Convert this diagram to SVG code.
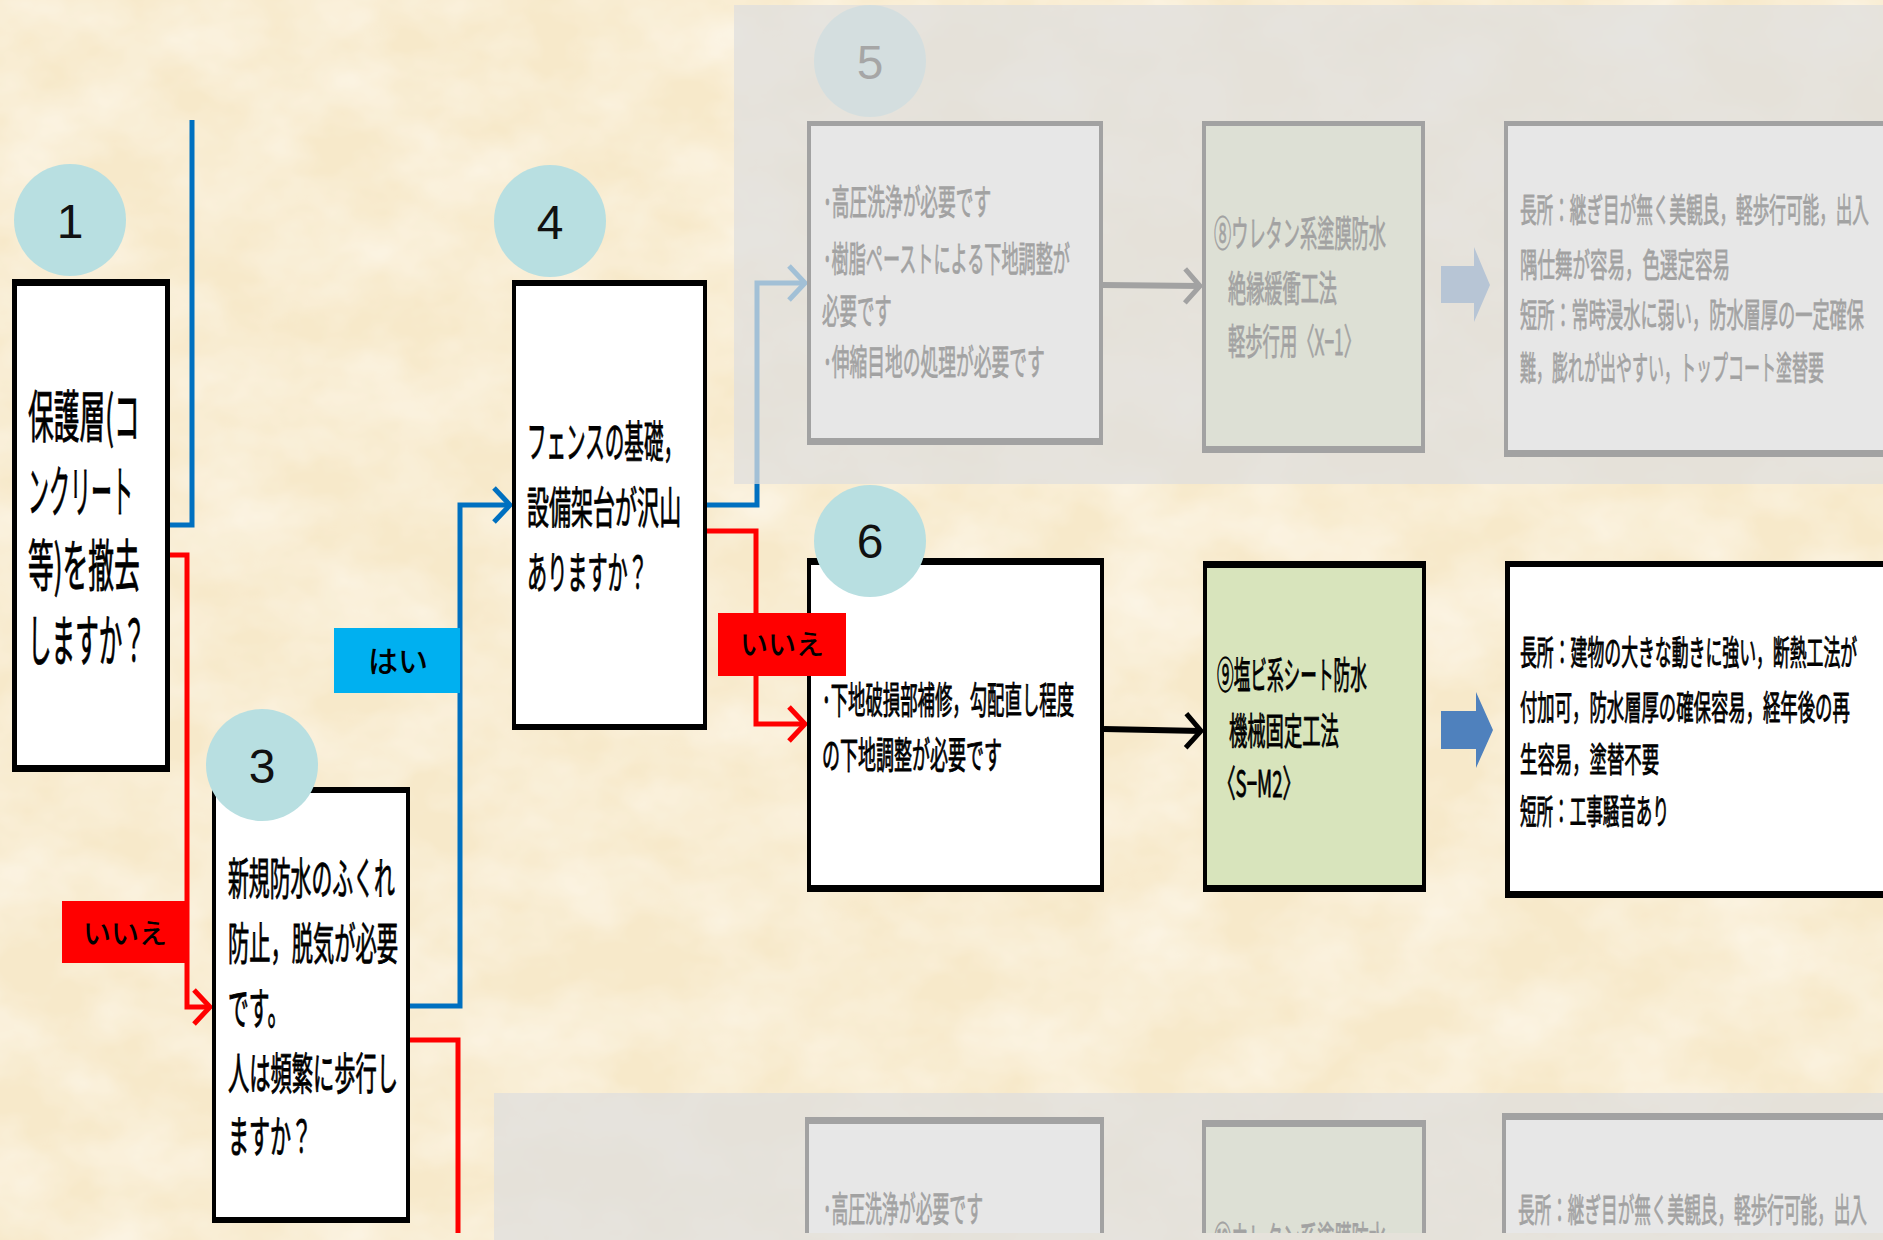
<svg xmlns="http://www.w3.org/2000/svg" width="1883" height="1240" viewBox="0 0 1883 1240">
<style>
.jp{font-family:"Noto Sans CJK JP","Noto Sans CJK SC",sans-serif;fill:#000;stroke:#000;stroke-width:0.9;font-weight:400}
.num{font-family:"Liberation Sans",Arial,sans-serif;font-size:48px;text-anchor:middle;fill:#111}
.lbl{font-family:"Noto Sans CJK JP","Noto Sans CJK SC",sans-serif;text-anchor:middle;fill:#000;font-weight:500}
.badge{fill:#b8dfe1}
.frame{fill:#000}
.inner{fill:#fff}
.green{fill:#d8e4bc}
.conn{fill:none;stroke-linejoin:miter}
.blue{stroke:#0070c0;stroke-width:5}
.red{stroke:#ff0000;stroke-width:5}
.blk{stroke:#000;stroke-width:6}
.fat{fill:#4f81bd}
.veil{fill:#dedede;opacity:0.73}
</style>
<defs>
<filter id="paper" x="0" y="0" width="100%" height="100%">
<feTurbulence type="fractalNoise" baseFrequency="0.01 0.014" numOctaves="4" seed="7"/>
<feColorMatrix type="matrix" values="0 0 0 0 1  0 0 0 0 0.98  0 0 0 0 0.94  1.0 0 0 0 -0.3"/>
</filter>
<clipPath id="cut"><rect x="0" y="0" width="1883" height="1233"/></clipPath>
<marker id="arB" markerUnits="userSpaceOnUse" markerWidth="40" markerHeight="40" refX="20" refY="20" orient="auto" overflow="visible"><path d="M4,3 L20,20 L4,37" fill="none" stroke="#0070c0" stroke-width="5"/></marker>
<marker id="arR" markerUnits="userSpaceOnUse" markerWidth="40" markerHeight="40" refX="20" refY="20" orient="auto" overflow="visible"><path d="M4,3 L20,20 L4,37" fill="none" stroke="#ff0000" stroke-width="5"/></marker>
<marker id="arK" markerUnits="userSpaceOnUse" markerWidth="40" markerHeight="40" refX="20" refY="20" orient="auto" overflow="visible"><path d="M5,3 L20,20 L5,37" fill="none" stroke="#000" stroke-width="5"/></marker>
</defs>

<rect width="1883" height="1240" fill="#f7e9ca"/>
<rect width="1883" height="1240" filter="url(#paper)"/>

<g id="bottom-row" clip-path="url(#cut)">
<rect class="frame" x="805" y="1117" width="299" height="200"/><rect class="inner" x="809" y="1124" width="291" height="200"/>
<rect class="frame" x="1202" y="1120" width="224" height="200"/><rect class="green" x="1206" y="1127" width="216" height="200"/>
<rect class="frame" x="1502" y="1113" width="400" height="200"/><rect class="inner" x="1506" y="1120" width="400" height="200"/>
<text class="jp" transform="translate(823,1222) scale(0.475,1)" font-size="35" textLength="337" lengthAdjust="spacingAndGlyphs">･高圧洗浄が必要です</text>
<text class="jp" transform="translate(1214,1253) scale(0.47,1)" font-size="36" textLength="366" lengthAdjust="spacingAndGlyphs">⑩ウレタン系塗膜防水</text>
<text class="jp" transform="translate(1518,1222) scale(0.5,1)" font-size="33" textLength="698" lengthAdjust="spacingAndGlyphs">長所：継ぎ目が無く美観良，軽歩行可能，出入</text>
</g>

<g id="connectors">
<path class="conn blue" d="M170,525 H192 V120"/>
<path class="conn red" d="M170,555 H187 V1007 H210" marker-end="url(#arR)"/>
<path class="conn blue" d="M410,1006 H460 V505 H510" marker-end="url(#arB)"/>
<path class="conn red" d="M410,1040 H458 V1233"/>
<path class="conn blue" d="M707,505 H757 V283 H805" marker-end="url(#arB)"/>
<path class="conn red" d="M707,531 H756 V724 H805" marker-end="url(#arR)"/>
<path class="conn blk" d="M1104,729 L1201,731" marker-end="url(#arK)"/>
<path class="conn blk" d="M1103,285 L1200,286" marker-end="url(#arK)"/>
<polygon class="fat" points="1441,711 1476,711 1476,692 1493,730 1476,768 1476,749 1441,749"/>
<polygon class="fat" points="1441,266 1474,266 1474,247 1490,285 1474,322 1474,303 1441,303"/>
</g>

<g id="node1">
<rect class="frame" x="12" y="279" width="158" height="493"/><rect class="inner" x="17" y="286" width="148" height="479"/>
<text class="jp" transform="translate(28,437) scale(0.43,1)" font-size="56" textLength="260" lengthAdjust="spacingAndGlyphs">保護層(コ</text>
<text class="jp" transform="translate(28,512) scale(0.43,1)" font-size="56" textLength="244" lengthAdjust="spacingAndGlyphs">ンクリート</text>
<text class="jp" transform="translate(28,586) scale(0.43,1)" font-size="56" textLength="260" lengthAdjust="spacingAndGlyphs">等)を撤去</text>
<text class="jp" transform="translate(28,661) scale(0.43,1)" font-size="56" textLength="274" lengthAdjust="spacingAndGlyphs">しますか？</text>
<ellipse class="badge" cx="70" cy="220" rx="56" ry="56"/>
<text class="num" x="70" y="238">1</text>
</g>

<g id="node3">
<rect class="frame" x="212" y="787" width="198" height="436"/><rect class="inner" x="216" y="793" width="190" height="424"/>
<text class="jp" transform="translate(228,895) scale(0.47,1)" font-size="44" textLength="355" lengthAdjust="spacingAndGlyphs">新規防水のふくれ</text>
<text class="jp" transform="translate(228,960) scale(0.47,1)" font-size="44" textLength="362" lengthAdjust="spacingAndGlyphs">防止，脱気が必要</text>
<text class="jp" transform="translate(228,1025) scale(0.47,1)" font-size="44" textLength="128" lengthAdjust="spacingAndGlyphs">です。</text>
<text class="jp" transform="translate(228,1090) scale(0.47,1)" font-size="44" textLength="362" lengthAdjust="spacingAndGlyphs">人は頻繁に歩行し</text>
<text class="jp" transform="translate(228,1153) scale(0.47,1)" font-size="44" textLength="179" lengthAdjust="spacingAndGlyphs">ますか？</text>
<ellipse class="badge" cx="262" cy="765" rx="56" ry="56"/>
<text class="num" x="262" y="783">3</text>
</g>

<g id="node4">
<rect class="frame" x="512" y="280" width="195" height="450"/><rect class="inner" x="516" y="286" width="187" height="438"/>
<text class="jp" transform="translate(527,458) scale(0.47,1)" font-size="44" textLength="332" lengthAdjust="spacingAndGlyphs">フェンスの基礎，</text>
<text class="jp" transform="translate(527,524) scale(0.47,1)" font-size="44" textLength="328" lengthAdjust="spacingAndGlyphs">設備架台が沢山</text>
<text class="jp" transform="translate(527,589) scale(0.47,1)" font-size="44" textLength="257" lengthAdjust="spacingAndGlyphs">ありますか？</text>
<ellipse class="badge" cx="550" cy="221" rx="56" ry="56"/>
<text class="num" x="550" y="239">4</text>
</g>

<g id="node6">
<rect class="frame" x="807" y="558" width="297" height="334"/><rect class="inner" x="811" y="565" width="289" height="320"/>
<text class="jp" transform="translate(822,714) scale(0.465,1)" font-size="37" textLength="542" lengthAdjust="spacingAndGlyphs">･下地破損部補修，勾配直し程度</text>
<text class="jp" transform="translate(822,769) scale(0.465,1)" font-size="37" textLength="387" lengthAdjust="spacingAndGlyphs">の下地調整が必要です</text>
<ellipse class="badge" cx="870" cy="541" rx="56" ry="56"/>
<text class="num" x="870" y="558">6</text>
</g>

<g id="node9">
<rect class="frame" x="1203" y="561" width="223" height="331"/><rect class="green" x="1207" y="568" width="215" height="317"/>
<text class="jp" transform="translate(1217,689) scale(0.45,1)" font-size="37" textLength="333" lengthAdjust="spacingAndGlyphs">⑨塩ビ系シート防水</text>
<text class="jp" transform="translate(1229,745) scale(0.45,1)" font-size="37" textLength="244" lengthAdjust="spacingAndGlyphs">機械固定工法</text>
<text class="jp" transform="translate(1217,797) scale(0.45,1)" font-size="37" textLength="187" lengthAdjust="spacingAndGlyphs">〈S−M2〉</text>
</g>

<g id="node9-result">
<rect class="frame" x="1505" y="561" width="400" height="337"/><rect class="inner" x="1510" y="567" width="400" height="324"/>
<text class="jp" transform="translate(1520,665) scale(0.49,1)" font-size="34" textLength="688" lengthAdjust="spacingAndGlyphs">長所：建物の大きな動きに強い，断熱工法が</text>
<text class="jp" transform="translate(1520,720) scale(0.49,1)" font-size="34" textLength="673" lengthAdjust="spacingAndGlyphs">付加可，防水層厚の確保容易，経年後の再</text>
<text class="jp" transform="translate(1520,772) scale(0.49,1)" font-size="34" textLength="284" lengthAdjust="spacingAndGlyphs">生容易，塗替不要</text>
<text class="jp" transform="translate(1520,824) scale(0.49,1)" font-size="34" textLength="304" lengthAdjust="spacingAndGlyphs">短所：工事騒音あり</text>
</g>

<g id="node5">
<rect class="frame" x="807" y="121" width="296" height="324"/><rect class="inner" x="811" y="126" width="288" height="312"/>
<text class="jp" transform="translate(823,215) scale(0.475,1)" font-size="35" textLength="354" lengthAdjust="spacingAndGlyphs">･高圧洗浄が必要です</text>
<text class="jp" transform="translate(823,272) scale(0.475,1)" font-size="35" textLength="520" lengthAdjust="spacingAndGlyphs">･樹脂ペーストによる下地調整が</text>
<text class="jp" transform="translate(822,324) scale(0.475,1)" font-size="35" textLength="147" lengthAdjust="spacingAndGlyphs">必要です</text>
<text class="jp" transform="translate(823,375) scale(0.475,1)" font-size="35" textLength="467" lengthAdjust="spacingAndGlyphs">･伸縮目地の処理が必要です</text>
<ellipse class="badge" cx="870" cy="61" rx="56" ry="56"/>
<text class="num" x="870" y="79">5</text>
</g>

<g id="node8">
<rect class="frame" x="1202" y="121" width="223" height="332"/><rect class="green" x="1206" y="126" width="215" height="320"/>
<text class="jp" transform="translate(1214,247) scale(0.47,1)" font-size="36" textLength="366" lengthAdjust="spacingAndGlyphs">⑧ウレタン系塗膜防水</text>
<text class="jp" transform="translate(1228,302) scale(0.47,1)" font-size="36" textLength="232" lengthAdjust="spacingAndGlyphs">絶縁緩衝工法</text>
<text class="jp" transform="translate(1228,355) scale(0.47,1)" font-size="36" textLength="283" lengthAdjust="spacingAndGlyphs">軽歩行用〈X−1〉</text>
</g>

<g id="node8-result">
<rect class="frame" x="1504" y="121" width="400" height="336"/><rect class="inner" x="1508" y="126" width="400" height="324"/>
<text class="jp" transform="translate(1520,222) scale(0.5,1)" font-size="33" textLength="698" lengthAdjust="spacingAndGlyphs">長所：継ぎ目が無く美観良，軽歩行可能，出入</text>
<text class="jp" transform="translate(1520,277) scale(0.5,1)" font-size="33" textLength="420" lengthAdjust="spacingAndGlyphs">隅仕舞が容易，色選定容易</text>
<text class="jp" transform="translate(1520,327) scale(0.5,1)" font-size="33" textLength="688" lengthAdjust="spacingAndGlyphs">短所：常時浸水に弱い，防水層厚の一定確保</text>
<text class="jp" transform="translate(1520,380) scale(0.5,1)" font-size="33" textLength="608" lengthAdjust="spacingAndGlyphs">難，膨れが出やすい，トップコート塗替要</text>
</g>

<g id="label-yes">
<rect x="334" y="628" width="126" height="65" fill="#00b0f0"/>
<text class="lbl" x="398" y="672" font-size="30">はい</text>
</g>
<g id="label-no-1">
<rect x="62" y="901" width="125" height="62" fill="#ff0000"/>
<text class="lbl" x="125" y="944" font-size="28">いいえ</text>
</g>
<g id="label-no-2">
<rect x="718" y="613" width="128" height="63" fill="#ff0000"/>
<text class="lbl" x="782" y="655" font-size="28">いいえ</text>
</g>

<g id="veils">
<rect class="veil" x="734" y="5" width="1149" height="479"/>
<rect class="veil" x="494" y="1093" width="1389" height="147"/>
</g>
</svg>
